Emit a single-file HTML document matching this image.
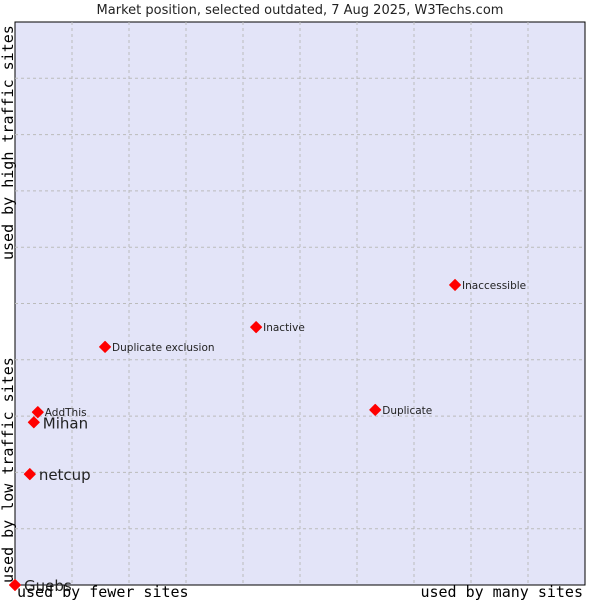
<!DOCTYPE html>
<html><head><meta charset="utf-8"><style>
body{margin:0;background:#fff;}
svg{display:block;font-family:"DejaVu Sans","Liberation Sans",sans-serif;}
</style></head><body>
<svg id="chart" width="600" height="600">
<text x="300" y="14" text-anchor="middle" font-size="13" fill="#222">Market position, selected outdated, 7 Aug 2025, W3Techs.com</text>
<rect x="15" y="22" width="570" height="563" fill="#e3e4f8" stroke="#000" stroke-width="1"/>
<g id="grid"></g>
<g id="marks"></g>
<text x="17" y="597" font-family="DejaVu Sans Mono,Liberation Mono,monospace" font-size="15" fill="#000">used by fewer sites</text>
<text x="583" y="597" text-anchor="end" font-family="DejaVu Sans Mono,Liberation Mono,monospace" font-size="15" fill="#000">used by many sites</text>
<text transform="translate(13,583) rotate(-90)" font-family="DejaVu Sans Mono,Liberation Mono,monospace" font-size="15" fill="#000">used by low traffic sites</text>
<text transform="translate(13,260) rotate(-90)" font-family="DejaVu Sans Mono,Liberation Mono,monospace" font-size="15" fill="#000">used by high traffic sites</text>
</svg>
<script>
const names = ["Guebs","netcup","Mihan","AddThis","Duplicate exclusion","Inactive","Duplicate","Inaccessible"];
const xValues = [0,2.6,3.3,4.0,15.8,42.3,63.2,77.2];
const yValues = [0,19.7,28.9,30.7,42.3,45.8,31.1,53.3];
const bigLabel = [true,true,true,false,false,false,false,false];
const L=15,T=22,W=570,H=563;
const xs=v=>L+v/100*W, ys=v=>T+H-v/100*H;
const NS="http://www.w3.org/2000/svg";
const grid=document.getElementById('grid'), marks=document.getElementById('marks');
for(let i=1;i<10;i++){
  const v=document.createElementNS(NS,'line');
  v.setAttribute('x1',xs(i*10));v.setAttribute('x2',xs(i*10));v.setAttribute('y1',T);v.setAttribute('y2',T+H);
  v.setAttribute('stroke','#bbb');v.setAttribute('stroke-dasharray','3,3');
  
  
  grid.appendChild(v);
  const h=document.createElementNS(NS,'line');
  h.setAttribute('y1',ys(i*10));h.setAttribute('y2',ys(i*10));h.setAttribute('x1',L);h.setAttribute('x2',L+W);
  h.setAttribute('stroke','#bbb');h.setAttribute('stroke-dasharray','3,3');
  
  
  grid.appendChild(h);
}
names.forEach((n,i)=>{
  const x=xs(xValues[i]), y=ys(yValues[i]);
  const p=document.createElementNS(NS,'polygon');
  p.setAttribute('points',`${x},${y-5.5} ${x+5.5},${y} ${x},${y+5.5} ${x-5.5},${y}`);
  p.setAttribute('fill','#ff0000');
  p.setAttribute('stroke','#ff0000');
  p.setAttribute('stroke-linejoin','round');
  
  
  marks.appendChild(p);
  const t=document.createElementNS(NS,'text');
  t.setAttribute('x',x+(bigLabel[i]?9:7));
  t.setAttribute('y',y+(bigLabel[i]?6:4));
  t.setAttribute('font-size',bigLabel[i]?15:10.5);
  t.setAttribute('fill','#222');
  t.textContent=n;
  
  
  marks.appendChild(t);
});
</script>
</body></html>
